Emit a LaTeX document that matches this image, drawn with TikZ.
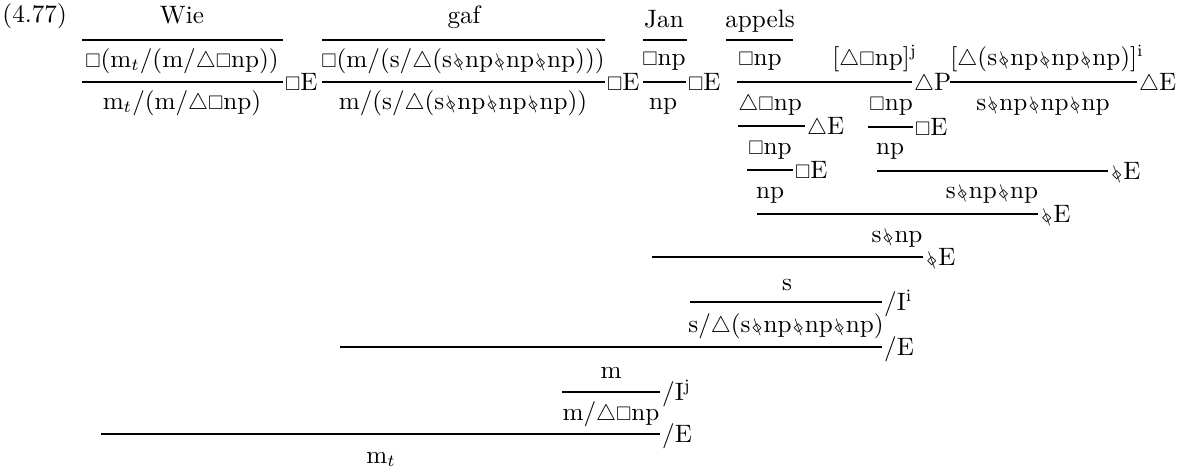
\documentclass[tikz,border=0pt]{standalone}
\usepackage{amssymb}
\usepackage{graphicx}
\newcommand{\bxs}{\scalebox{0.78}{$\Box$}}
\newcommand{\trs}{\scalebox{0.93}{$\triangle$}}
\newcommand{\wrp}{\makebox[5.4pt]{\ooalign{\hfil$\scriptstyle\diamond$\hfil\cr\hfil\rotatebox[origin=c]{20}{\scalebox{0.75}{$|$}}\hfil\cr}}}

\begin{document}
\begin{tikzpicture}[x=0.4132pt, y=-0.4132pt,
every node/.style={font=\fontsize{10.4}{12}\selectfont},
fml/.style={anchor=base, inner sep=0pt},
fmlw/.style={anchor=base west, inner sep=0pt},
inf/.style={line width=0.8pt},
rlab/.style={anchor=base west, inner sep=0.5pt, yshift=-3.4pt}]
\useasboundingbox (0,0) rectangle (1181,471);

%lexicon
\node[fmlw] (num) at (2,22) {(4.77)};
\node[fml] (wie) at (182,23) {Wie};
\node[fml] (gaf) at (464,23) {gaf};
\node[fml] (jan) at (664,27) {Jan};
\node[fml] (app) at (760,27) {appels};
\draw[inf] (82,40) -- (283,40);
\draw[inf] (322,40) -- (605,40);
\draw[inf] (643,40) -- (687,40);
\draw[inf] (726,40) -- (793,40);

%types
\node[fml] (wie1) at (182,67) {\bxs(m$_t$/(m/\trs\bxs np))};
\node[fml] (gaf1) at (463,67) {\bxs(m/(s/\trs(s\wrp np\wrp np\wrp np)))};
\node[fml] (jan1) at (664,65) {\bxs np};
\node[fml] (app1) at (760,65) {\bxs np};
\node[fmlw] (hypj) at (832,65) {[\trs\bxs np]$^{\mathrm{j}}$};
\node[fmlw] (hypi) at (950,65) {[\trs(s\wrp np\wrp np\wrp np)]$^{\mathrm{i}}$};
\draw[inf] (82,82) -- (283,82) node[rlab] (r1) {\bxs E};
\draw[inf] (322,82) -- (605,82) node[rlab] (r2) {\bxs E};
\draw[inf] (643,82) -- (686,82) node[rlab] (r3) {\bxs E};
\draw[inf] (737,82) -- (912,82) node[rlab] (r4) {\trs P};
\draw[inf] (950,82) -- (1137,82) node[rlab] (r5) {\trs E};

%first conclusions
\node[fml] (wie2) at (182,109) {m$_t$/(m/\trs\bxs np)};
\node[fml] (gaf2) at (463,109) {m/(s/\trs(s\wrp np\wrp np\wrp np))};
\node[fml] (jan2) at (663,109) {np};
\node[fmlw] (app2) at (738,110) {\trs\bxs np};
\node[fmlw] (hj2) at (869,110) {\bxs np};
\node[fml] (hi2) at (1043,110) {s\wrp np\wrp np\wrp np};
\draw[inf] (738,126) -- (805,126) node[rlab] (r6) {\trs E};
\draw[inf] (868,127) -- (913,127) node[rlab] (r7) {\bxs E};

%second conclusions
\node[fml] (app3) at (770,154) {\bxs np};
\node[fml] (hj3) at (890,154) {np};
\draw[inf] (747,170) -- (793,170) node[rlab] (r8) {\bxs E};
\draw[inf] (877,171) -- (1108,171) node[rlab] (r9) {\wrp E};
\node[fml] (app4) at (770,198) {np};
\node[fml] (v2) at (992,198) {s\wrp np\wrp np};
\draw[inf] (757,214) -- (1038,214) node[rlab] (r10) {\wrp E};
\node[fml] (v1) at (897,242) {s\wrp np};
\draw[inf] (652,257) -- (923,257) node[rlab] (r11) {\wrp E};
\node[fml] (s) at (787,290) {s};
\draw[inf] (690,302) -- (882,302) node[rlab] (r12) {/I$^{\mathrm{i}}$};
\node[fml] (sv) at (786,332) {s/\trs(s\wrp np\wrp np\wrp np)};
\draw[inf] (340,347) -- (882,347) node[rlab] (r13) {/E};
\node[fml] (m) at (611,378) {m};
\draw[inf] (562,392) -- (660,392) node[rlab] (r14) {/I$^{\mathrm{j}}$};
\node[fml] (mv) at (611,420) {m/\trs\bxs np};
\draw[inf] (101,434) -- (660,434) node[rlab] (r15) {/E};
\node[fmlw] (mt) at (366,463) {m$_t$};
\end{tikzpicture}
\end{document}
